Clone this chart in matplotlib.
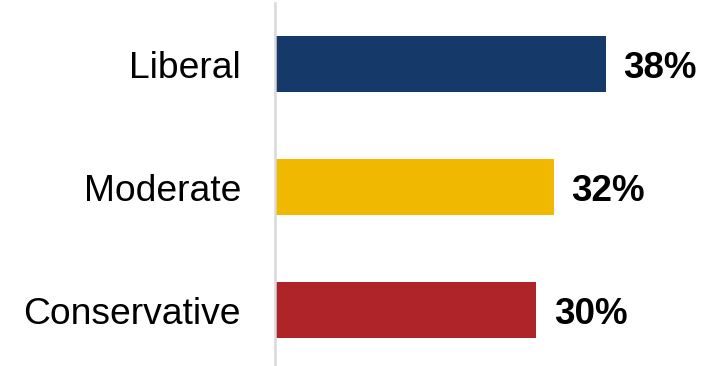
import matplotlib
matplotlib.use('Agg')
import matplotlib.pyplot as plt

categories = ['Liberal', 'Moderate', 'Conservative']
values = [38, 32, 30]
colors = ['#153A6A', '#F1B800', '#AF2428']

plt.rcParams['font.family'] = ['Liberation Sans', 'DejaVu Sans']

fig = plt.figure(figsize=(7.26, 3.66), dpi=100)
W, H = 726, 366
ax_left, ax_right = 275, 693
ax_top, ax_bottom = 3, 366
ax = fig.add_axes([ax_left / W, 1 - ax_bottom / H, (ax_right - ax_left) / W, (ax_bottom - ax_top) / H])

ypos = list(range(len(categories)))
ax.barh(ypos, values, height=0.45, color=colors)

for y, v in zip(ypos, values):
    ax.text(v + 2.0, y + 0.035, f'{v}%', va='center', ha='left', fontsize=26.5, fontweight='bold', color='black')

ax.set_xlim(0, 48)
ax.set_ylim(2.455, -0.496)
ax.set_yticks(ypos)
ax.set_yticklabels(categories, fontsize=26.8)
ax.tick_params(axis='y', length=0, pad=24.5)
ax.set_xticks([])

for s in ['top', 'right', 'bottom']:
    ax.spines[s].set_visible(False)
ax.spines['left'].set_color('#D9D9D9')
ax.spines['left'].set_linewidth(1.8)

fig.savefig('out.png', dpi=100)
